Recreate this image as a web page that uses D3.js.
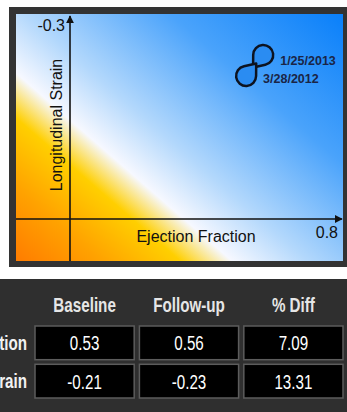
<!DOCTYPE html>
<html>
<head>
<meta charset="utf-8">
<script src="https://cdn.jsdelivr.net/npm/d3@7"></script>
<style>
  body { margin: 0; background: #fff; }
  svg { display: block; }
</style>
</head>
<body>
<svg id="chart" width="347" height="412"></svg>
<script>
// data
const visits = ['Baseline', 'Follow-up'];
const visitDates = ['3/28/2012', '1/25/2013'];
const ejectionFraction = [0.53, 0.56];
const longitudinalStrain = [-0.21, -0.23];
const tableColumns = ['Baseline', 'Follow-up', '% Diff'];
const tableRows = ['Ejection Fraction', 'Longitudinal Strain'];
const tableValues = [['0.53', '0.56', '7.09'], ['-0.21', '-0.23', '13.31']];
const axisLabels = { x: 'Ejection Fraction', y: 'Longitudinal Strain', xEnd: '0.8', yEnd: '-0.3' };

const svg = d3.select('#chart');
const plot = { x: 16, y: 14, w: 327, h: 247 };
const axisX = 70;   // vertical axis position
const axisY = 219;  // horizontal axis position

const x = d3.scaleLinear().domain([0.4, 0.7]).range([172, 343]);
const y = d3.scaleLinear().domain([-0.25, -0.2]).range([34, 86.5]);

// frame
svg.append('rect').attr('x', 9).attr('y', 7).attr('width', 338).attr('height', 260).attr('fill', '#333');

const defs = svg.append('defs');
const grad = defs.append('linearGradient').attr('id', 'bg-grad')
  .attr('gradientUnits', 'userSpaceOnUse')
  .attr('x1', 16).attr('y1', 261).attr('x2', 16 + 0.656 * 400).attr('y2', 261 - 0.754 * 400);
[
  [0, '#ff7c00'], [0.14, '#ffa200'], [0.27, '#ffcf00'], [0.355, '#f6f8ff'],
  [0.48, '#b3d8fc'], [0.72, '#4aa3fb'], [1, '#0a80fa']
].forEach(([o, c]) => grad.append('stop').attr('offset', o).attr('stop-color', c));

defs.append('marker').attr('id', 'arrow').attr('viewBox', '0 0 10 10')
  .attr('refX', 9).attr('refY', 5).attr('markerWidth', 5).attr('markerHeight', 5)
  .attr('markerUnits', 'strokeWidth').attr('orient', 'auto')
  .append('path').attr('d', 'M0,0 L10,5 L0,10 Z').attr('fill', '#111');

svg.append('rect').attr('x', plot.x).attr('y', plot.y).attr('width', plot.w).attr('height', plot.h)
  .attr('fill', 'url(#bg-grad)');

// axes
svg.append('line').attr('x1', axisX).attr('y1', plot.y + plot.h).attr('x2', axisX).attr('y2', plot.y + 2)
  .attr('stroke', '#111').attr('stroke-width', 1.6).attr('marker-end', 'url(#arrow)');
svg.append('line').attr('x1', plot.x).attr('y1', axisY).attr('x2', plot.x + plot.w - 1).attr('y2', axisY)
  .attr('stroke', '#111').attr('stroke-width', 1.6).attr('marker-end', 'url(#arrow)');

const sans = '"Liberation Sans", Arial, sans-serif';
const txt = (s, px, py, opts = {}) => svg.append('text')
  .attr('transform', `translate(${px},${py})` + (opts.rotate ? ` rotate(${opts.rotate})` : '') + (opts.sx ? ` scale(${opts.sx},1)` : ''))
  .attr('font-family', opts.family || sans)
  .attr('font-size', opts.size || 16)
  .attr('font-weight', opts.weight || 'normal')
  .attr('fill', opts.fill || '#111')
  .attr('text-anchor', opts.anchor || 'start')
  .text(s);

txt(axisLabels.yEnd, 65, 31, { anchor: 'end' });
txt(axisLabels.xEnd, 338, 238, { anchor: 'end' });
txt(axisLabels.x, 196, 242, { anchor: 'middle' });
txt(axisLabels.y, 62, 125, { anchor: 'middle', rotate: -90 });

// teardrop markers pointing at each other
function teardrop(cx, cy, tx, ty, r) {
  const th = Math.atan2(ty - cy, tx - cx);
  const d = r * 1.6;
  const px = cx + d * Math.cos(th), py = cy + d * Math.sin(th);
  const a = Math.acos(r / d);
  const p1 = [cx + r * Math.cos(th + a), cy + r * Math.sin(th + a)];
  const p2 = [cx + r * Math.cos(th - a), cy + r * Math.sin(th - a)];
  return `M${px},${py}L${p1[0]},${p1[1]}A${r},${r} 0 1 1 ${p2[0]},${p2[1]}Z`;
}
const pts = visits.map((v, i) => ({ v, date: visitDates[i], px: x(ejectionFraction[i]), py: y(longitudinalStrain[i]) }));
[1, 0].forEach(i => {
  const p = pts[i], q = pts[1 - i];
  svg.append('path').attr('d', teardrop(p.px, p.py, q.px, q.py, 10))
    .attr('fill', '#2a8cf2').attr('stroke', '#0d1320').attr('stroke-width', 2.5).attr('stroke-linejoin', 'round');
});
pts.forEach(p => txt(p.date, p.px + 17, p.py + (p.v === 'Baseline' ? 7 : 10), { size: 12.5, weight: 'bold', fill: '#1a2546' }));

// table
svg.append('rect').attr('x', 0).attr('y', 279).attr('width', 347).attr('height', 133).attr('fill', '#2f2f2f');
const colX = d3.scaleBand().domain(tableColumns).range([35, 343]).paddingInner(0.05);
const rowY = d3.scaleBand().domain(tableRows).range([326, 398]).paddingInner(0.12);

tableColumns.forEach(c => txt(c, colX(c) + colX.bandwidth() / 2, 312,
  { anchor: 'middle', size: 19.5, weight: 'bold', fill: '#e6e6e6', sx: 0.78 }));

tableRows.forEach((r, ri) => {
  const ry = rowY(r);
  txt(r, 27, ry + rowY.bandwidth() / 2 + 7, { anchor: 'end', size: 19.5, weight: 'bold', fill: '#f2f2f2', sx: 0.78 });
  tableColumns.forEach((c, ci) => {
    svg.append('rect').attr('x', colX(c)).attr('y', ry).attr('width', colX.bandwidth()).attr('height', rowY.bandwidth())
      .attr('fill', '#000').attr('stroke', '#5c5c5c').attr('stroke-width', 1.5);
    txt(tableValues[ri][ci], colX(c) + colX.bandwidth() / 2, ry + rowY.bandwidth() / 2 + 7.5,
      { anchor: 'middle', size: 20.5, fill: '#fff', sx: 0.74 });
  });
});
</script>
</body>
</html>
